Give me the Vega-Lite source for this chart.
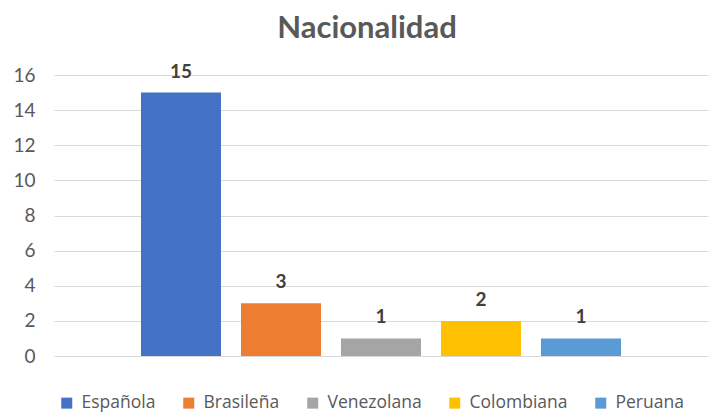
{
  "$schema": "https://vega.github.io/schema/vega-lite/v6.json",
  "width": 654,
  "height": 281,
  "autosize": {"type": "none"},
  "padding": {"left": 54, "top": 75, "right": 2, "bottom": 58},
  "background": "white",
  "title": {
    "text": "Nacionalidad",
    "font": "Lato",
    "fontSize": 31,
    "fontWeight": "bold",
    "color": "#595959",
    "anchor": "middle",
    "frame": "group",
    "offset": 18,
    "dx": -14
  },
  "config": {"view": {"stroke": null}, "font": "Lato"},
  "data": {
    "values": [
      {"nacionalidad": "Española", "n": 15},
      {"nacionalidad": "Brasileña", "n": 3},
      {"nacionalidad": "Venezolana", "n": 1},
      {"nacionalidad": "Colombiana", "n": 2},
      {"nacionalidad": "Peruana", "n": 1}
    ]
  },
  "encoding": {
    "x": {
      "field": "nacionalidad",
      "type": "nominal",
      "sort": null,
      "axis": null,
      "scale": {"paddingInner": 0.2, "paddingOuter": 0.87}
    },
    "y": {
      "field": "n",
      "type": "quantitative",
      "scale": {"domain": [0, 16], "nice": false},
      "axis": {
        "title": null,
        "values": [0, 2, 4, 6, 8, 10, 12, 14, 16],
        "grid": true,
        "gridColor": "#D9D9D9",
        "gridWidth": 1,
        "domain": false,
        "ticks": false,
        "labelPadding": 19,
        "labelFontSize": 19,
        "labelColor": "#595959",
        "labelFont": "Lato"
      }
    }
  },
  "layer": [
    {
      "mark": {"type": "bar"},
      "encoding": {
        "color": {
          "field": "nacionalidad",
          "type": "nominal",
          "scale": {
            "domain": ["Española", "Brasileña", "Venezolana", "Colombiana", "Peruana"],
            "range": ["#4472C4", "#ED7D31", "#A5A5A5", "#FFC000", "#5B9BD5"]
          },
          "legend": {
            "title": null,
            "orient": "none",
            "direction": "horizontal",
            "legendX": 4,
            "legendY": 319,
            "symbolType": "square",
            "symbolSize": 121,
            "symbolStrokeWidth": 0,
            "symbolOpacity": 1,
            "labelFontSize": 17.5,
            "labelFont": "Open Sans",
            "labelColor": "#595959",
            "labelOffset": 6,
            "columnPadding": 24
          }
        }
      }
    },
    {
      "mark": {
        "type": "text",
        "baseline": "alphabetic",
        "dy": -15,
        "font": "Lato",
        "fontSize": 19,
        "fontWeight": "bold",
        "color": "#404040"
      },
      "encoding": {"text": {"field": "n", "type": "quantitative"}}
    }
  ]
}
